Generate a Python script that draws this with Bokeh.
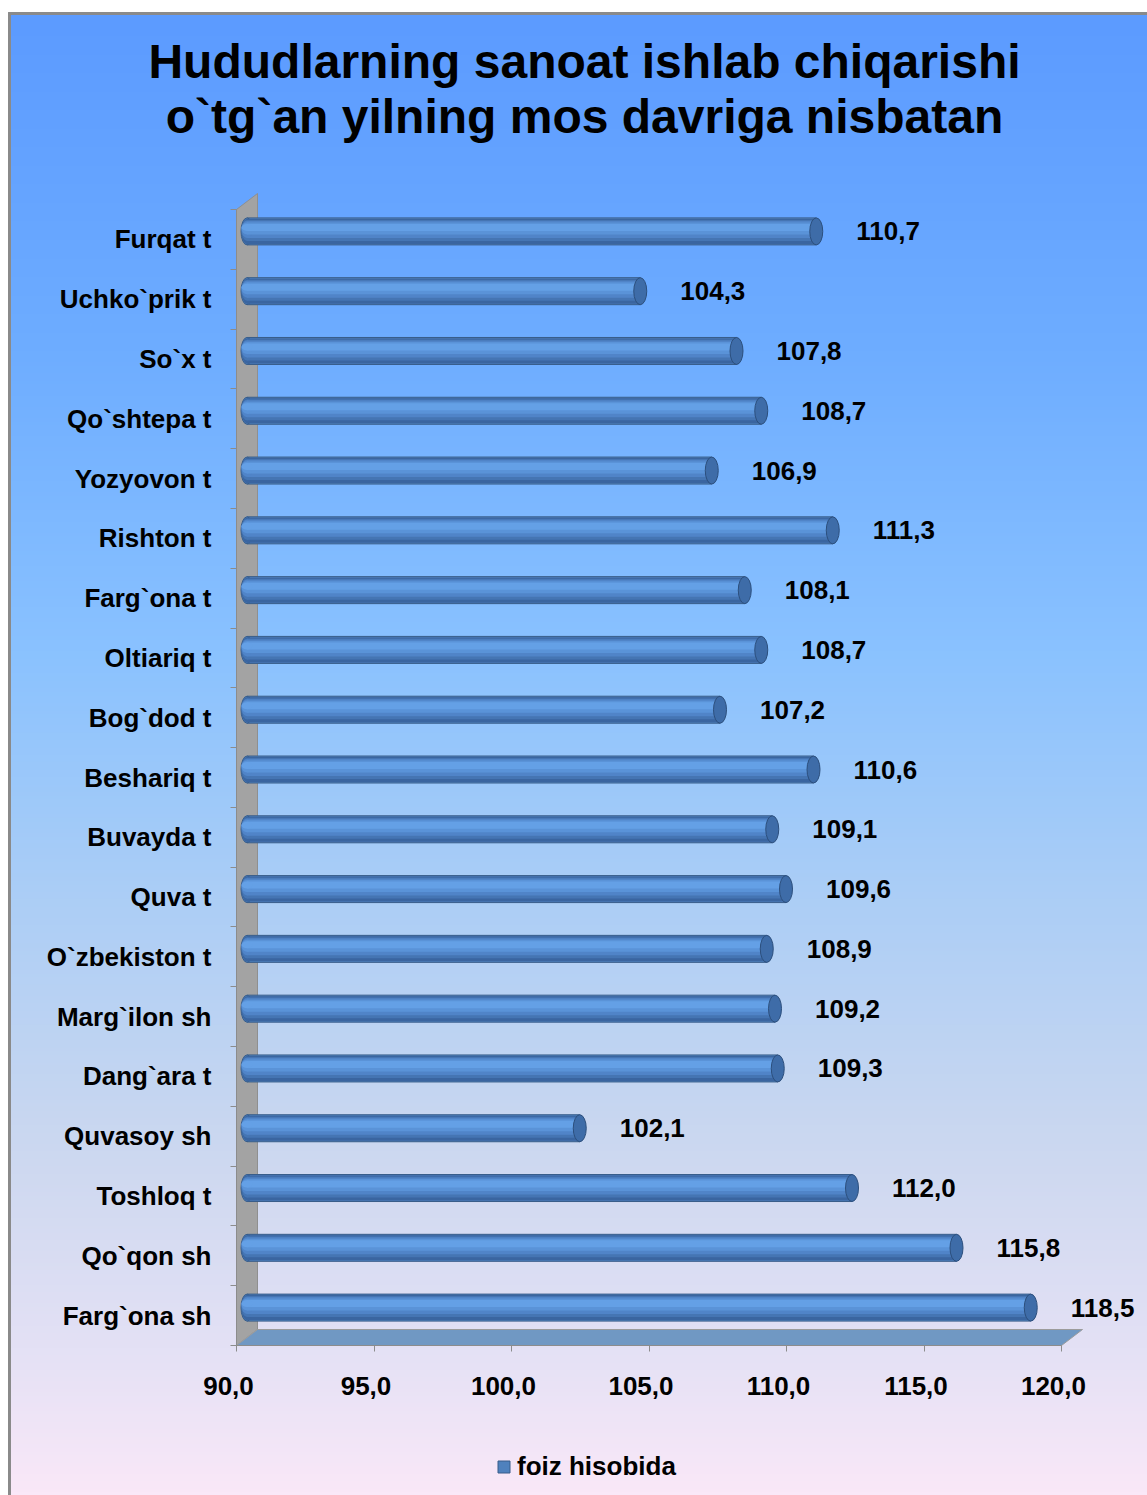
import numpy as np
from bokeh.plotting import figure
from bokeh.models import (Range1d, LinearAxis, FixedTicker, ColumnDataSource,
                          Legend, LegendItem)
from bokeh.transform import dodge
from bokeh.embed import file_html
from bokeh.resources import INLINE
from bokeh.core.properties import value

# ---------------- data ----------------
title_lines = ["Hududlarning sanoat ishlab chiqarishi",
               "o`tg`an yilning mos davriga nisbatan"]
categories = ["Furqat t", "Uchko`prik t", "So`x t", "Qo`shtepa t", "Yozyovon t",
              "Rishton t", "Farg`ona t", "Oltiariq t", "Bog`dod t", "Beshariq t",
              "Buvayda t", "Quva t", "O`zbekiston t", "Marg`ilon sh", "Dang`ara t",
              "Quvasoy sh", "Toshloq t", "Qo`qon sh", "Farg`ona sh"]
values = [110.7, 104.3, 107.8, 108.7, 106.9, 111.3, 108.1, 108.7, 107.2, 110.6,
          109.1, 109.6, 108.9, 109.2, 109.3, 102.1, 112.0, 115.8, 118.5]
x_ticks = [90, 95, 100, 105, 110, 115, 120]
x_tick_labels = ["90,0", "95,0", "100,0", "105,0", "110,0", "115,0", "120,0"]
series_name = "foiz hisobida"

# ---------------- layout (pixels) ----------------
W, H = 1147, 1495
X0_PX, X1_PX = 236, 1061          # px of first / last x tick
Y_TOP_PX, Y_BOT_PX = 209, 1345    # px of top / bottom category boundary
FONT = "Liberation Sans"
n = len(categories)
x_lo, x_hi = x_ticks[0], x_ticks[-1]
sx = (X1_PX - X0_PX) / (x_hi - x_lo)
sy = (Y_BOT_PX - Y_TOP_PX) / n
x_start = x_lo - X0_PX / sx
x_end = x_lo + (W - X0_PX) / sx
y_start = -0.5 - (H - Y_BOT_PX) / sy
y_end = n - 0.5 + Y_TOP_PX / sy


def fx(px):
    return x_start + px / sx


def fy(py):
    return y_end - py / sy


DEPTH_X, DEPTH_Y = 21, 16  # 3-D depth in px
XLABEL_SHIFT = 8           # x tick labels sit slightly left of their ticks

p = figure(width=W, height=H, x_range=Range1d(x_start, x_end),
           y_range=Range1d(y_start, y_end), output_backend="svg",
           toolbar_location=None, min_border=0, x_axis_type=None,
           y_axis_type=None, title=None)
p.outline_line_color = None
p.background_fill_color = "white"
p.border_fill_color = "white"

# shifted ranges for the bars (they sit in the middle of the 3-D depth)
p.extra_x_ranges = {
    "bx": Range1d(x_start - DEPTH_X / 2 / sx, x_end - DEPTH_X / 2 / sx),
    "lx": Range1d(x_start + XLABEL_SHIFT / sx, x_end + XLABEL_SHIFT / sx),
}
p.extra_y_ranges = {"by": Range1d(y_start - DEPTH_Y / 2 / sy, y_end - DEPTH_Y / 2 / sy)}

# ---------------- background gradient ----------------
stop_py = np.array([13, 350, 650, 900, 1150, 1350, 1495], dtype=float)
stop_rgb = np.array([[92, 155, 255], [110, 173, 255], [138, 194, 255],
                     [172, 206, 246], [204, 216, 240], [228, 225, 245],
                     [250, 232, 248]], dtype=float)
N = 400
rows_py = np.linspace(H, 13, N)  # row 0 = bottom
img = np.empty((N, 1), dtype=np.uint32)
view = img.view(dtype=np.uint8).reshape((N, 1, 4))
for c in range(3):
    view[:, 0, c] = np.interp(rows_py, stop_py, stop_rgb[:, c]).astype(np.uint8)
view[:, 0, 3] = 255
p.image_rgba(image=[img], x=fx(10), y=fy(H), dw=fx(W) - fx(10), dh=fy(13) - fy(H))

# chart-area border
p.quad(left=fx(8), right=fx(10), top=fy(12), bottom=fy(H), color="#8a8a8a")
p.quad(left=fx(8), right=fx(W), top=fy(12), bottom=fy(14), color="#8a8a8a")

# ---------------- 3-D wall and floor ----------------
dxd, dyd = DEPTH_X / sx, DEPTH_Y / sy
p.patch([x_lo, x_lo, x_lo + dxd, x_lo + dxd],
        [-0.5, n - 0.5, n - 0.5 + dyd, -0.5 + dyd],
        fill_color="#a3a3a3", line_color="#8f8f8f", line_width=1)
p.patch([x_lo, x_hi, x_hi + dxd, x_lo + dxd],
        [-0.5, -0.5, -0.5 + dyd, -0.5 + dyd],
        fill_color="#7098c3", line_color="#9c9c9c", line_width=1)

# ---------------- axes ----------------
tick_font = dict(major_label_text_font=FONT, major_label_text_font_size="26px",
                 major_label_text_font_style="bold", major_label_text_color="black")
# x axis line + ticks
xaxis = LinearAxis(fixed_location=-0.5, ticker=FixedTicker(ticks=x_ticks),
                   bounds=(x_lo, x_hi),
                   major_label_overrides={float(t): "" for t in x_ticks},
                   axis_line_color="#8c8c8c", major_tick_line_color="#8c8c8c",
                   major_tick_out=6, major_tick_in=0, minor_tick_out=0, minor_tick_in=0)
p.add_layout(xaxis, "below")
# x tick labels
xlab = LinearAxis(fixed_location=-0.5, x_range_name="lx",
                  ticker=FixedTicker(ticks=x_ticks),
                  major_label_overrides={float(t): l for t, l in zip(x_ticks, x_tick_labels)},
                  axis_line_color=None, major_tick_line_color=None,
                  major_tick_out=6, major_tick_in=0, minor_tick_out=0, minor_tick_in=0,
                  major_label_standoff=25, **tick_font)
p.add_layout(xlab, "below")

pos = [n - 1 - k for k in range(n)]
ylab = LinearAxis(fixed_location=x_lo, ticker=FixedTicker(ticks=pos),
                  major_label_overrides={float(y): c for y, c in zip(pos, categories)},
                  axis_line_color=None, major_tick_line_color=None,
                  major_tick_out=0, major_tick_in=0, minor_tick_out=0, minor_tick_in=0,
                  major_label_standoff=25, **tick_font)
p.add_layout(ylab, "left")
bounds_y = [k - 0.5 for k in range(n + 1)]
ytick = LinearAxis(fixed_location=x_lo, ticker=FixedTicker(ticks=bounds_y),
                   bounds=(-0.5, n - 0.5),
                   major_label_overrides={float(b): "" for b in bounds_y},
                   axis_line_color="#8c8c8c", major_tick_line_color="#8c8c8c",
                   major_tick_out=6, major_tick_in=0, minor_tick_out=0, minor_tick_in=0)
p.add_layout(ytick, "left")

# ---------------- cylinder bars ----------------
src = ColumnDataSource(dict(y=pos, v=values, cat=categories,
                            lab=[f"{v:.1f}".replace(".", ",") for v in values]))
BAR_H = 27
kw = dict(source=src, x_range_name="bx", y_range_name="by")

# outer shell (also the legend glyph)
r_bar = p.hbar(y="y", left=x_lo, right="v", height=BAR_H / sy,
               fill_color="#4F81BD", line_color="#385D8A", line_width=1, **kw)
p.ellipse(x=x_lo, y="y", width=12, height=BAR_H, width_units="screen",
          height_units="screen", fill_color="#4F81BD", line_color="#385D8A",
          line_width=1, **kw)
layers = [(25, 0, "#3a65a0"), (21, 1, "#4575b3"), (17, 2, "#5084c8"),
          (12, 3, "#5a93d8"), (7, 4, "#64a0e6")]
for h, off, col in layers:
    p.hbar(y=dodge("y", off / sy), left=x_lo, right="v", height=h / sy,
           fill_color=col, line_color=None, **kw)
    p.ellipse(x=x_lo, y=dodge("y", off / sy), width=11, height=h,
              width_units="screen", height_units="screen",
              fill_color=col, line_color=None, **kw)
p.ellipse(x="v", y="y", width=13, height=BAR_H, width_units="screen",
          height_units="screen", fill_color="#3e6ca8", line_color="#2c4f7d",
          line_width=1, **kw)

# value labels
p.text(x="v", y="y", text="lab", x_offset=40, text_align="left",
       text_baseline="middle", text_font=value(FONT), text_font_size="26px",
       text_font_style="bold", text_color="black", **kw)

# ---------------- title ----------------
p.text(x=[fx(584), fx(584)], y=[fy(61), fy(116)], text=title_lines,
       text_align="center", text_baseline="alphabetic", text_font=value(FONT),
       text_font_size="48px", text_font_style="bold", text_color="black")

# ---------------- legend ----------------
legend = Legend(items=[LegendItem(label=series_name, renderers=[r_bar])],
                location=(496, 13), orientation="horizontal",
                background_fill_alpha=0, border_line_color=None,
                padding=0, margin=0, spacing=0, glyph_width=15, glyph_height=15,
                label_standoff=6, label_text_font=FONT, label_text_font_size="26px",
                label_text_font_style="bold", label_text_color="black")
p.add_layout(legend)

open("out.html", "w").write(file_html(p, INLINE))
